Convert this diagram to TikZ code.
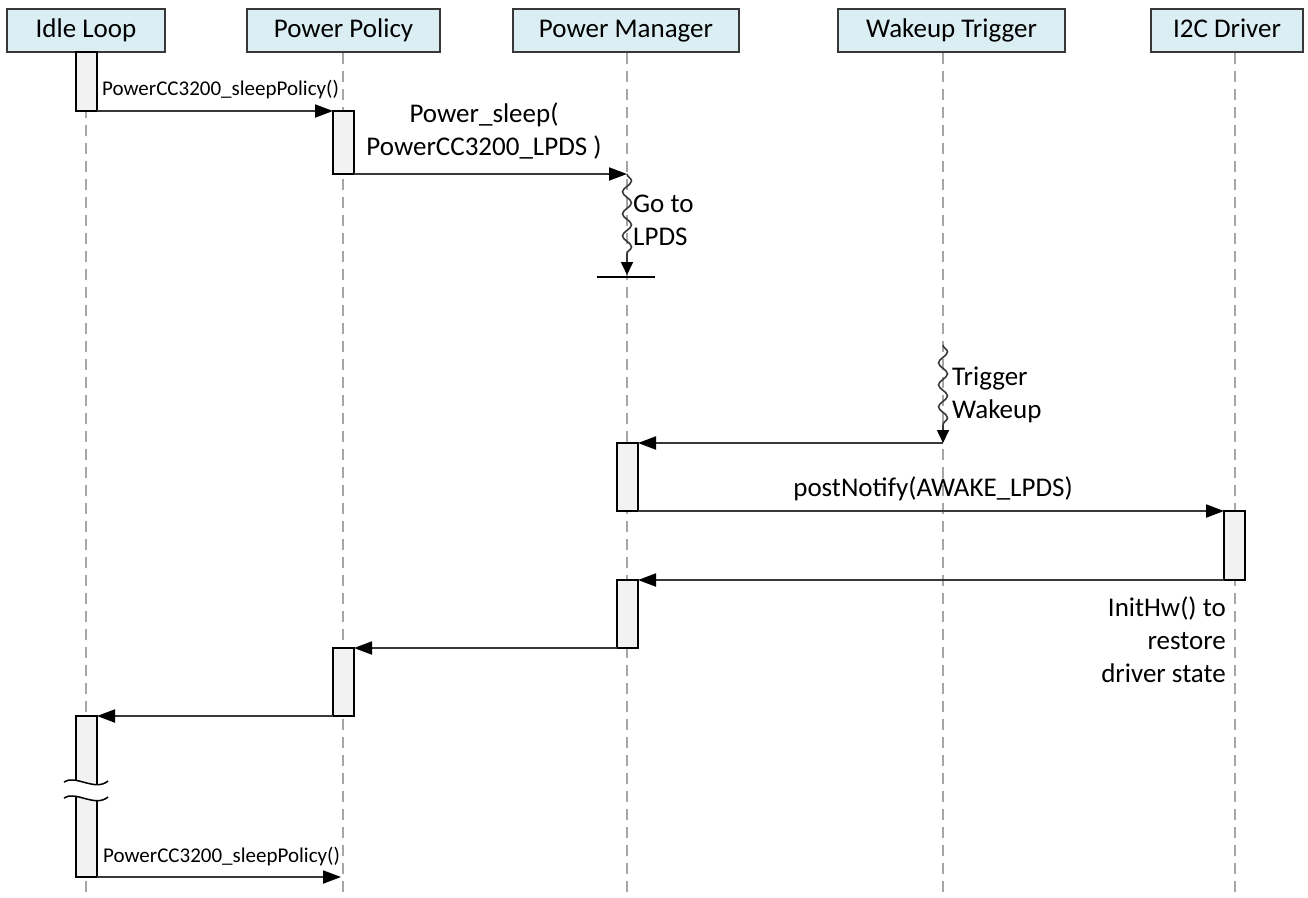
\documentclass[tikz,border=0pt]{standalone}
\usepackage{fontspec}
\setmainfont{Carlito}
\usetikzlibrary{arrows.meta,decorations.pathmorphing}

\definecolor{HeadFill}{HTML}{DAEEF3}
\definecolor{BarFill}{HTML}{F2F2F2}
\definecolor{LifeLine}{HTML}{A6A6A6}
\definecolor{MsgLine}{HTML}{383838}

\tikzset{
  head/.style={draw=MsgLine, line width=2pt, fill=HeadFill, minimum height=43pt, inner sep=0pt, text height=19pt, text depth=5pt, font=\fontsize{27}{33}\selectfont},
  bar/.style={draw=black, line width=1.5pt, fill=BarFill, minimum width=21pt, inner sep=0pt, outer sep=0pt, anchor=north},
  life/.style={LifeLine, line width=1.5pt, dash pattern=on 11pt off 7pt},
  msg/.style={MsgLine, line width=2pt, -{Triangle[length=18pt,width=13pt,color=black]}},
  lbl/.style={inner sep=0pt, font=\fontsize{27}{33}\selectfont},
  smalllbl/.style={inner sep=0pt, font=\fontsize{21}{25}\selectfont},
  wave/.style={MsgLine, line width=1.6pt, decorate, decoration={snake, amplitude=4.5pt, segment length=22pt, post length=13pt}, -{Triangle[length=13pt,width=12pt,color=black]}},
}

\begin{document}
\begin{tikzpicture}[x=1pt, y=-1pt]

 \useasboundingbox (0,0) rectangle (1308,897);

 %%%%%%%%%% Life lines %%%%%%%%%%
 \foreach \x in {86,343,627,943,1235}
 {
   \draw [life] (\x,53) -- (\x,897);
 }

 %%%%%%%%%% Heads %%%%%%%%%%
 \node [head, minimum width=158pt] (idle) at (86,30.5) {Idle Loop};
 \node [head, minimum width=193pt] (policy) at (343.5,30.5) {Power Policy};
 \node [head, minimum width=226pt] (manager) at (626,30.5) {Power Manager};
 \node [head, minimum width=227pt] (trigger) at (951.5,30.5) {Wakeup Trigger};
 \node [head, minimum width=152pt] (driver) at (1227,30.5) {I2C Driver};

 %%%%%%%%%% Activation bars %%%%%%%%%%
 \node [bar, minimum height=59pt] (idleA) at (86.5,52) {};
 \node [bar, minimum height=63pt] (policyA) at (343.5,111) {};
 \node [bar, minimum height=68pt] (managerA) at (627.5,443) {};
 \node [bar, minimum height=69pt] (driverA) at (1234.5,511) {};
 \node [bar, minimum height=68pt] (managerB) at (627.5,580) {};
 \node [bar, minimum height=68pt] (policyB) at (343.5,648) {};
 \node [bar, minimum height=161pt] (idleB) at (86.5,716) {};

 %%%%%%%%%% Points pour les messages %%%%%%%%%%
 \coordinate (sleepEnd) at (627,174);
 \coordinate (lpdsEnd) at (627,275);
 \coordinate (stopLeft) at (597,277);
 \coordinate (stopRight) at (655,277);
 \coordinate (trigStart) at (943,345);
 \coordinate (trigEnd) at (943,443);
 \coordinate (againEnd) at (341,877);

 %%%%%%%%%% Break in the idle bar %%%%%%%%%%
 \fill [white] (64,782) .. controls (75,774) and (95,792) .. (108,781)
   -- (108,797) .. controls (95,808) and (75,790) .. (64,798) -- cycle;
 \draw [line width=1.5pt] (64,782) .. controls (75,774) and (95,792) .. (108,781);
 \draw [line width=1.5pt] (64,798) .. controls (75,790) and (95,808) .. (108,797);

 %%%%%%%%%% Messages %%%%%%%%%%
 \draw [msg] (idleA.south east) -- (policyA.north west);
 \draw [msg] (policyA.south east) -- (sleepEnd);
 \draw [wave] (sleepEnd) -- (lpdsEnd);
 \draw [line width=2pt] (stopLeft) -- (stopRight);
 \draw [wave] (trigStart) -- (trigEnd);
 \draw [msg] (trigEnd) -- (managerA.north east);
 \draw [msg] (managerA.south east) -- (driverA.north west);
 \draw [msg] (driverA.south west) -- (managerB.north east);
 \draw [msg] (managerB.south west) -- (policyB.north east);
 \draw [msg] (policyB.south west) -- (idleB.north east);
 \draw [msg] (idleB.south east) -- (againEnd);

 %%%%%%%%%% Labels %%%%%%%%%%
 \node [smalllbl, anchor=west] (policyLbl) at (102,90) {PowerCC3200\_sleepPolicy()};
 \node [lbl, align=center] (sleepLbl) at (484,131.5) {Power\_sleep(\\PowerCC3200\_LPDS )};
 \node [lbl, align=left, anchor=west] (lpdsLbl) at (633,220) {Go to\\LPDS};
 \node [lbl, align=left, anchor=west] (trigLbl) at (952,395) {Trigger\\Wakeup};
 \node [lbl] (notifyLbl) at (933,489) {postNotify(AWAKE\_LPDS)};
 \node [lbl, align=right, anchor=east] (initLbl) at (1226,640) {InitHw() to\\restore\\driver state};
 \node [smalllbl, anchor=west] (againLbl) at (103,856) {PowerCC3200\_sleepPolicy()};

\end{tikzpicture}
\end{document}
